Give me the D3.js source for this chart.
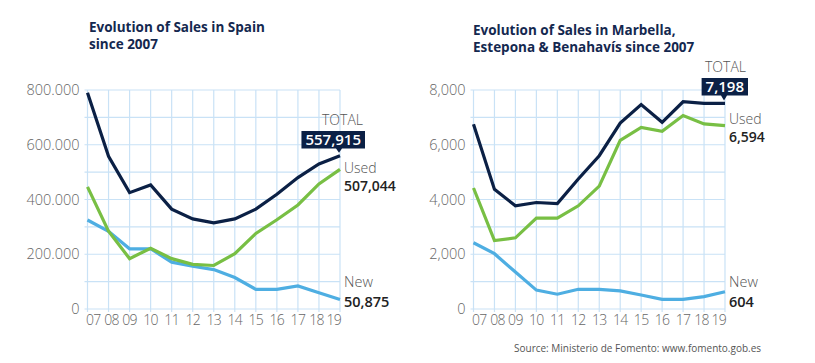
<!DOCTYPE html>
<html>
<head>
<meta charset="utf-8">
<script src="https://cdn.jsdelivr.net/npm/d3@7"></script>
<style>
  html, body { margin: 0; padding: 0; background: #fff; }
  svg { display: block; font-family: "Open Sans", sans-serif; }
</style>
</head>
<body>
<svg id="chart" width="815" height="363"></svg>
<script>
// ---------- DATA ----------
const years = ["07","08","09","10","11","12","13","14","15","16","17","18","19"];

const spainTotal = [790000, 558000, 425000, 453000, 365000, 329000, 315000, 329000, 365000, 419000, 480000, 530000, 560000];
const spainUsed  = [446000, 284000, 184000, 222000, 184000, 163000, 159000, 202000, 276000, 326000, 380000, 457000, 510000];
const spainNew   = [325000, 284000, 220000, 220000, 171000, 156000, 144000, 115000, 72000, 72000, 84000, 59000, 35000];

const marbTotal = [6750, 4370, 3770, 3890, 3850, 4750, 5600, 6790, 7470, 6820, 7570, 7510, 7510];
const marbUsed  = [4420, 2500, 2600, 3320, 3320, 3770, 4490, 6160, 6630, 6490, 7070, 6760, 6700];
const marbNew   = [2420, 2020, 1350, 690, 540, 720, 720, 660, 510, 350, 350, 450, 630];

const spainTickValues = [0, 200000, 400000, 600000, 800000];
const spainTickLabels = ["0", "200.000", "400.000", "600.000", "800.000"];
const marbTickValues = [0, 2000, 4000, 6000, 8000];
const marbTickLabels = ["0", "2,000", "4,000", "6,000", "8,000"];

const spainTitle = ["Evolution of Sales in Spain", "since 2007"];
const marbTitle = ["Evolution of Sales in Marbella,", "Estepona & Benahavís since 2007"];

const spainEndLabels = { total: "557,915", used: "507,044", newv: "50,875" };
const marbEndLabels = { total: "7,198", used: "6,594", newv: "604" };

const sourceText = "Source: Ministerio de Fomento: www.fomento.gob.es";

// ---------- STYLE ----------
const C_TOTAL = "#0b2045";
const C_USED = "#78bf44";
const C_NEW = "#4eaee2";
const C_GRID = "#c9e2f6";
const C_TICK = "#666";
const C_TITLE = "#14284f";

const svg = d3.select("#chart");

function drawChart(opt) {
  const g = svg.append("g");
  const x = d3.scalePoint().domain(years).range([opt.x0, opt.x1]);
  const y = d3.scaleLinear().domain([0, opt.max]).range([309, 90]);

  // title
  const t = g.append("text")
    .attr("x", opt.titleX).attr("y", opt.titleY)
    .attr("fill", C_TITLE).attr("font-weight", 700).attr("font-size", 13.5);
  opt.title.forEach((line, i) => {
    t.append("tspan").attr("x", opt.titleX).attr("dy", i === 0 ? 0 : 17).text(line);
  });

  // horizontal gridlines
  const gridVals = d3.range(0, opt.max + 1, opt.max / 8);
  g.append("g").selectAll("line").data(gridVals).join("line")
    .attr("x1", opt.x0 - 3).attr("x2", opt.x1)
    .attr("y1", d => y(d)).attr("y2", d => y(d))
    .attr("stroke", C_GRID).attr("stroke-width", 1.2);

  // vertical gridlines
  g.append("g").selectAll("line").data(years).join("line")
    .attr("x1", d => x(d)).attr("x2", d => x(d))
    .attr("y1", y(opt.max)).attr("y2", 312)
    .attr("stroke", C_GRID).attr("stroke-width", 1.2);

  // y tick labels
  g.append("g").selectAll("text").data(opt.tickValues).join("text")
    .attr("x", opt.x0 - 8).attr("y", d => y(d) + 5)
    .attr("text-anchor", "end").attr("fill", C_TICK)
    .attr("font-size", 14.5).attr("font-weight", 300)
    .text((d, i) => opt.tickLabels[i]);

  // x tick labels
  g.append("g").selectAll("text").data(years).join("text")
    .attr("x", (d, i) => i === 0 ? x(d) - 1.5 : (i === years.length - 1 ? x(d) + 1 : (i === 1 ? x(d) + 3 : (i === years.length - 2 ? x(d) - 2.5 : x(d)))))
    .attr("y", 325)
    .attr("text-anchor", (d, i) => i === 0 ? "start" : (i === years.length - 1 ? "end" : "middle"))
    .attr("fill", C_TICK).attr("font-size", 14).attr("font-weight", 300)
    .attr("letter-spacing", -0.7)
    .text(d => d);

  const line = d3.line().x((d, i) => x(years[i])).y(d => y(d));
  [[opt.newv, C_NEW], [opt.used, C_USED], [opt.total, C_TOTAL]].forEach(([vals, col]) => {
    g.append("path").datum(vals)
      .attr("fill", "none").attr("stroke", col).attr("stroke-width", 3.2)
      .attr("stroke-linejoin", "miter").attr("d", line);
  });

  // end labels
  const lx = opt.x1 + 4;
  const endX = x(years[years.length - 1]);
  const endY = y(opt.total[opt.total.length - 1]);

  g.append("text").attr("x", opt.boxRight - 2).attr("y", opt.boxTop - 6)
    .attr("text-anchor", "end").attr("fill", "#555").attr("font-size", 14).attr("font-weight", 300)
    .text("TOTAL");
  const boxText = g.append("text").attr("x", opt.boxRight - 4).attr("y", opt.boxTop + 14)
    .attr("text-anchor", "end").attr("fill", "#fff").attr("font-size", 15).attr("font-weight", 600)
    .text(opt.labels.total);
  const bw = boxText.node().getComputedTextLength() + 8;
  const bLeft = opt.boxRight - bw;
  const bBottom = opt.boxTop + 17.5;
  g.append("path")
    .attr("d", `M${bLeft},${opt.boxTop}H${opt.boxRight}V${bBottom}H${endX + 2}L${endX - 1},${endY - 3}L${endX - 4},${bBottom}H${bLeft}Z`)
    .attr("fill", C_TOTAL);
  boxText.raise();

  g.append("text").attr("x", lx).attr("y", opt.usedY).attr("fill", "#555")
    .attr("font-size", 14).attr("font-weight", 300).text("Used");
  g.append("text").attr("x", lx).attr("y", opt.usedY + 18).attr("fill", "#222")
    .attr("font-size", 14).attr("font-weight", 600).text(opt.labels.used);
  g.append("text").attr("x", lx).attr("y", 287).attr("fill", "#555")
    .attr("font-size", 14.5).attr("font-weight", 300).text("New");
  g.append("text").attr("x", lx).attr("y", 307).attr("fill", "#222")
    .attr("font-size", 14.5).attr("font-weight", 600).text(opt.labels.newv);
}

drawChart({
  x0: 87.5, x1: 340, max: 800000,
  total: spainTotal, used: spainUsed, newv: spainNew,
  tickValues: spainTickValues, tickLabels: spainTickLabels,
  title: spainTitle, titleX: 89, titleY: 32,
  labels: spainEndLabels, boxRight: 365, boxTop: 131, usedY: 173
});

drawChart({
  x0: 473.5, x1: 725, max: 8000,
  total: marbTotal, used: marbUsed, newv: marbNew,
  tickValues: marbTickValues, tickLabels: marbTickLabels,
  title: marbTitle, titleX: 473, titleY: 35,
  labels: marbEndLabels, boxRight: 748, boxTop: 78, usedY: 124
});

svg.append("text").attr("x", 514).attr("y", 352)
  .attr("fill", "#555").attr("font-size", 10)
  .text(sourceText);
</script>
</body>
</html>
